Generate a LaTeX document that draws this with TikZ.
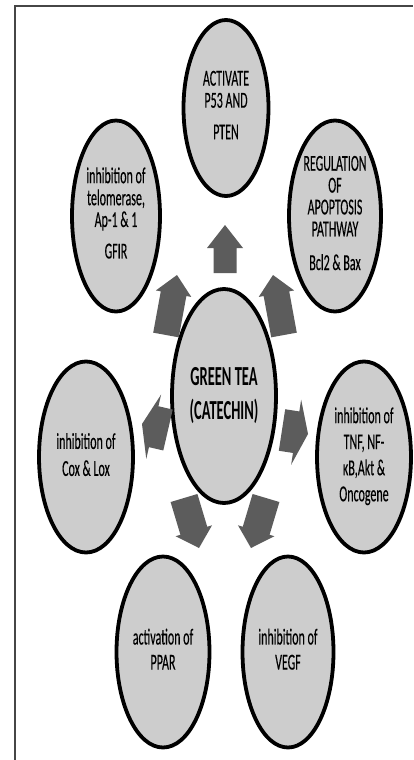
\documentclass[tikz,border=0pt]{standalone}
\usepackage{fontspec}
\setmainfont{Carlito}
\newfontfamily\heavyfont{Carlito}[FakeBold=0.45]
\usepackage{graphicx}
\usetikzlibrary{shapes.geometric,calc,shadows}
\definecolor{bubfill}{RGB}{205,205,205}
\definecolor{arrowc}{RGB}{92,92,92}
\definecolor{framec}{RGB}{70,70,70}
\newcommand\sttext[3]{\scalebox{1}[1.9]{\fontsize{#1}{#2}\selectfont\begin{tabular}{@{}c@{}}#3\end{tabular}}}
\newcommand\blockarrow[5]{%
  \coordinate (bh) at ($(#2)!#5!(#1)$);
  \fill[arrowc] ($(#1)!#3!90:(#2)$) -- ($(bh)!#3!90:(#2)$) -- ($(bh)!#4!90:(#2)$) -- (#2)
     -- ($(bh)!#4!-90:(#2)$) -- ($(bh)!#3!-90:(#2)$) -- ($(#1)!#3!-90:(#2)$) -- cycle;}
\tikzset{
  bub/.style={ellipse, draw=black, line width=3.8pt, fill=bubfill, inner sep=0pt,
    text=black, font=\heavyfont, minimum width=92pt, minimum height=191pt,
    drop shadow={shadow xshift=1.5pt, shadow yshift=-1.5pt, opacity=0.25}},
  framel/.style={draw=framec, line width=1.4pt}
}
\begin{document}
\begin{tikzpicture}[x=1pt,y=-1pt]
\useasboundingbox (0,0) rectangle (414,760);
\fill[white] (0,0) rectangle (414,760);
\coordinate (fL) at (15,760);
\coordinate (fTL) at (15,6);
\coordinate (fR) at (413,6);
\draw[framel] (fL) -- (fTL) -- (fR);

\node[bub, minimum width=85pt, minimum height=176pt] (top) at (226,108)
  {\sttext{12}{11.6}{ACTIVATE\\P53 AND\\[5pt]PTEN}};
\node[bub, minimum width=88pt] (ul) at (116,216)
  {\sttext{12}{10.9}{inhibition of\\telomerase,\\Ap-1 \& 1\\[5.5pt]GFIR}};
\node[bub] (ur) at (335,216)
  {\sttext{12}{11.5}{REGULATION\\OF\\APOPTOSIS\\PATHWAY\\[6pt]Bcl2 \& Bax}};
\node[bub, minimum width=104pt, minimum height=214pt] (c) at (224,396)
  {\sttext{14.5}{17.8}{\rmfamily\bfseries GREEN TEA\\\rmfamily\bfseries (CATECHIN)}};
\node[bub, minimum width=94pt] (l) at (86,457)
  {\sttext{12}{14.2}{inhibition of\\Cox \& Lox}};
\node[bub, minimum width=94pt] (r) at (364,457)
  {\sttext{12}{13.7}{inhibition of\\TNF, NF-\\κB,Akt \&\\Oncogene}};
\node[bub, minimum width=93pt] (bl) at (163,652)
  {\sttext{12}{13.2}{activation of\\PPAR}};
\node[bub, minimum width=91pt] (br) at (288,652)
  {\sttext{12}{13.2}{inhibition of\\VEGF}};

% arrows (tail, tip)
\coordinate (a1t) at (225,273); \coordinate (a1h) at (225,225);
\coordinate (a2t) at (166,335); \coordinate (a2h) at (177,275);
\coordinate (a3t) at (284,335); \coordinate (a3h) at (273,275);
\coordinate (a4t) at (168,430); \coordinate (a4h) at (142,424);
\coordinate (a5t) at (282,430); \coordinate (a5h) at (308,434);
\coordinate (a6t) at (184,498); \coordinate (a6h) at (199,548);
\coordinate (a7t) at (266,498); \coordinate (a7h) at (251,548);
\blockarrow{a1t}{a1h}{11.5pt}{18pt}{23pt}
\blockarrow{a2t}{a2h}{13pt}{18pt}{19pt}
\blockarrow{a3t}{a3h}{13pt}{18pt}{19pt}
\blockarrow{a4t}{a4h}{21pt}{33pt}{12pt}
\blockarrow{a5t}{a5h}{21pt}{33pt}{12pt}
\blockarrow{a6t}{a6h}{14pt}{19pt}{18pt}
\blockarrow{a7t}{a7h}{14pt}{19pt}{18pt}
\end{tikzpicture}
\end{document}
